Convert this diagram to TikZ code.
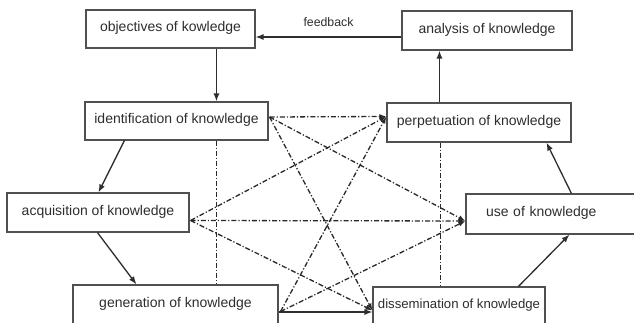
\documentclass[tikz,border=0pt]{standalone}
\usepackage{fontspec}
\setmainfont{Liberation Sans}
\usetikzlibrary{arrows.meta,calc}
\definecolor{ink}{HTML}{2E2E2E}
\definecolor{frame}{HTML}{505050}
\begin{document}
\begin{tikzpicture}[x=1pt,y=-1pt,
  box/.style={draw=frame,line width=1.1pt,fill=white,inner sep=0pt,text=ink,
    font=\fontsize{14}{16}\selectfont,text depth=5pt},
  arr/.style={draw=ink,line width=1.3pt,-{Latex[length=8pt,width=6pt]}},
  dd/.style={draw=ink!90!black,line width=1.3pt,dash pattern=on 5pt off 2pt on 1.2pt off 2pt},
  dda/.style={dd,-{Latex[length=7pt,width=5pt]}}]
\useasboundingbox[fill=white] (0,0) rectangle (634,323);
% boxes
\node[box,minimum width=169pt,minimum height=38pt] (obj) at (170.5,29) {objectives of kowledge};
\node[box,minimum width=170pt,minimum height=39pt] (ana) at (487,30.5) {analysis of knowledge};
\node[box,minimum width=183pt,minimum height=38pt] (ident) at (176.5,121) {identification of knowledge};
\node[box,minimum width=184pt,minimum height=39pt] (perp) at (479,122.5) {perpetuation of knowledge};
\node[box,minimum width=182pt,minimum height=39pt] (acq) at (98,212.5) {acquisition of knowledge};
\node[box,minimum height=40pt,text width=159pt,align=left,inner xsep=10pt] (use) at (555.5,214) {\hspace*{10pt}use of knowledge};
\node[box,minimum width=205pt,minimum height=39pt] (gen) at (175.5,304.5) {generation of knowledge};
\node[box,minimum width=172pt,minimum height=39pt,font=\fontsize{13.2}{16}\selectfont] (diss) at (459,306.5) {dissemination of knowledge};
% helper coordinates
\coordinate (fby) at (0,37);
\coordinate (gdy) at (0,312);
% solid arrows
\draw[arr] (ana.west |- fby) -- (obj.east |- fby) node[midway,above=6pt,text=ink,font=\fontsize{12.3}{14}\selectfont] (fbl) {feedback};
\draw[arr] ($(obj.south west)+(131,0)$) -- ($(ident.north west)+(132,0)$);
\draw[arr] ($(ident.south west)+(40,0)$) -- ($(acq.north west)+(92,0)$);
\draw[arr] ($(acq.south west)+(91,0)$) -- ($(gen.north west)+(64,0)$);
\draw[arr] (gen.east |- gdy) -- (diss.west |- gdy);
\draw[arr] ($(diss.north west)+(146,0)$) -- ($(use.south west)+(104,0)$);
\draw[arr] ($(use.north west)+(106,0)$) -- ($(perp.south west)+(160,0)$);
\draw[arr] ($(perp.north west)+(53,0)$) -- ($(ana.south west)+(38,0)$);
% dash-dot connectors
\coordinate (I) at ($(ident.east)+(1,-4)$);
\coordinate (P) at ($(perp.west)+(0,-6)$);
\coordinate (A) at ($(acq.east)+(1,8)$);
\coordinate (U) at ($(use.west)+(0,7)$);
\coordinate (D) at ($(diss.west)+(0,4)$);
\coordinate (G) at ($(gen.east)+(2,7)$);
\draw[dda] (I) -- (P);
\draw[dda] (I) -- (U);
\draw[dda] (I) -- (D);
\draw[dda] (A) -- (P);
\draw[dda] (A) -- (U);
\draw[dda] (A) -- (D);
\draw[dda] (G) -- (P);
\draw[dda] (G) -- (U);
\draw[dd] ($(ident.south west)+(132,0)$) -- ($(gen.north west)+(144,0)$);
\draw[dd] ($(perp.south west)+(54,0)$) -- ($(diss.north west)+(68,0)$);
\end{tikzpicture}
\end{document}
